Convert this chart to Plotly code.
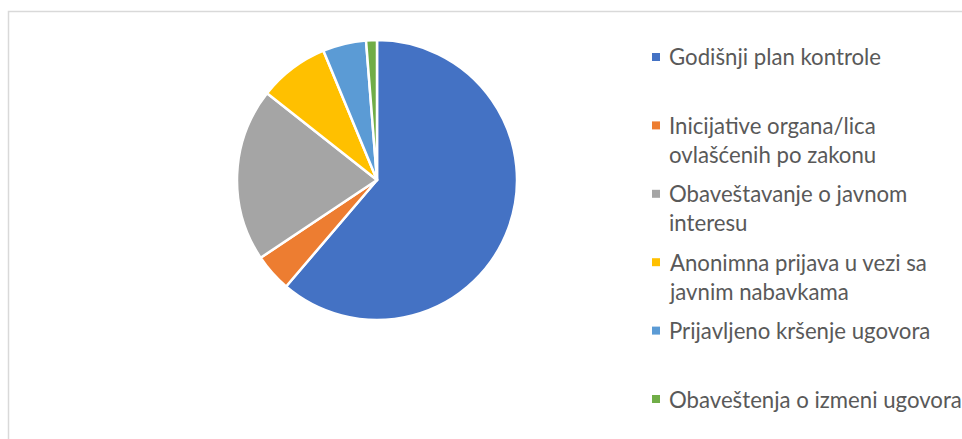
import plotly.graph_objects as go

# Data
categories = [
    "Godišnji plan kontrole",
    "Inicijative organa/lica<br>ovlašćenih po zakonu",
    "Obaveštavanje o javnom<br>interesu",
    "Anonimna prijava u vezi sa<br>javnim nabavkama",
    "Prijavljeno kršenje ugovora",
    "Obaveštenja o izmeni ugovora",
]
values = [98, 7, 32, 13, 8, 2]
colors = ["#4472C4", "#ED7D31", "#A5A5A5", "#FFC000", "#5B9BD5", "#70AD47"]

W, H = 962, 439
cx, cy, r = 377, 180, 140

fig = go.Figure()
fig.add_trace(go.Pie(
    labels=[c.replace("<br>", " ") for c in categories],
    values=values,
    sort=False,
    direction="clockwise",
    rotation=0,
    textinfo="none",
    hoverinfo="label+value+percent",
    marker=dict(colors=colors, line=dict(color="white", width=2.5)),
    domain=dict(x=[(cx - r) / W, (cx + r) / W], y=[(H - cy - r) / H, (H - cy + r) / H]),
    showlegend=False,
))

# Manual legend
FS = 22.2
LS = 1.3 * FS
first_y = 57
step = 68.4
sq_x = 656
txt_x = 668
shapes = [dict(type="rect", xref="paper", yref="paper",
               x0=8.5 / W, x1=1.02, y0=-0.02, y1=1 - 11.5 / H,
               line=dict(color="#D9D9D9", width=1.5), fillcolor="rgba(0,0,0,0)")]
annotations = []
for i, (lab, col) in enumerate(zip(categories, colors)):
    yc = first_y + i * step
    n = lab.count("<br>") + 1
    mid = yc + (n - 1) * LS / 2
    annotations.append(dict(
        text=lab, x=txt_x / W, y=1 - mid / H, xref="paper", yref="paper",
        xanchor="left", yanchor="middle", align="left", showarrow=False,
        font=dict(family="Lato", size=FS, color="#595959"), borderpad=0,
    ))
    shapes.append(dict(type="rect", xref="paper", yref="paper",
                       x0=(sq_x - 4) / W, x1=(sq_x + 4) / W,
                       y0=1 - (yc + 4) / H, y1=1 - (yc - 4) / H,
                       line=dict(width=0), fillcolor=col))

fig.update_layout(
    width=W, height=H,
    margin=dict(l=0, r=0, t=0, b=0),
    paper_bgcolor="white", plot_bgcolor="white",
    shapes=shapes, annotations=annotations,
)
fig.write_html("out.html")
